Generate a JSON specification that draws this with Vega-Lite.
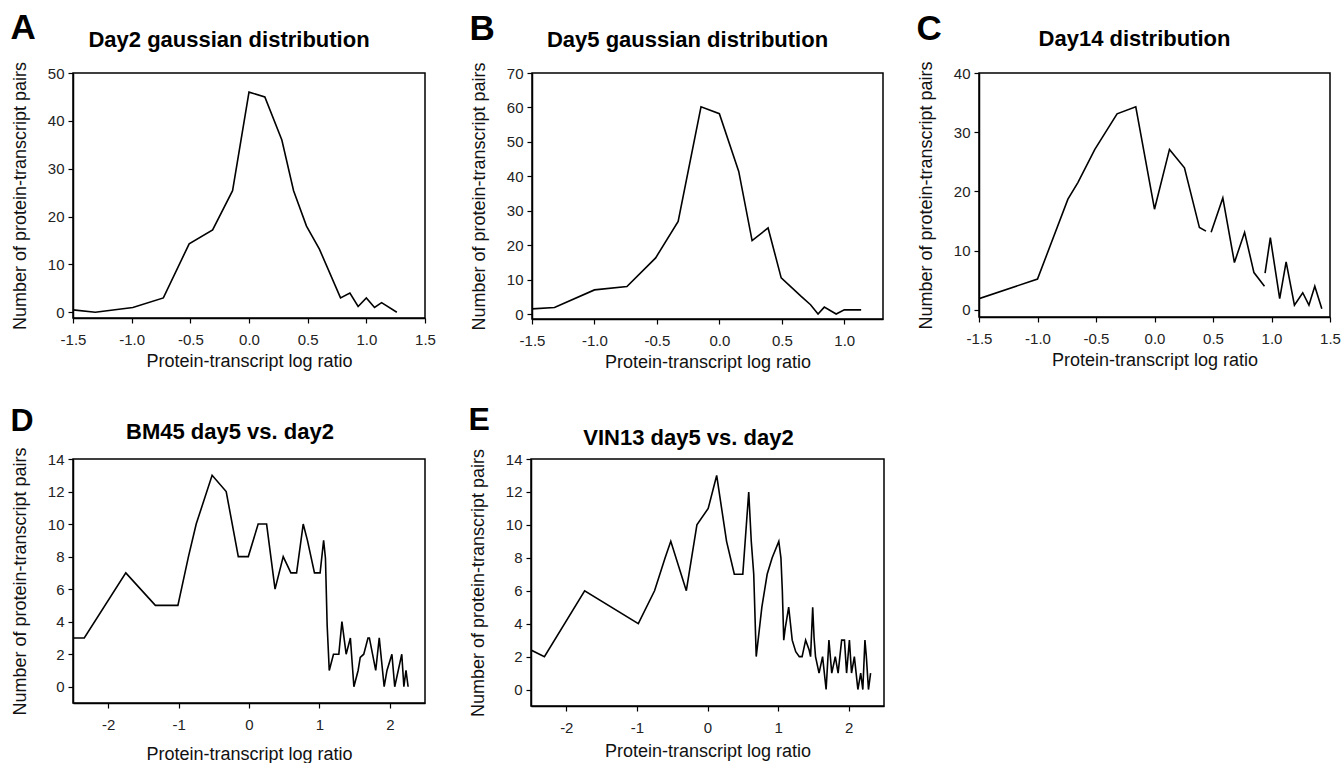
{
  "$schema": "https://vega.github.io/schema/vega-lite/v6.json",
  "background": "white",
  "padding": {"left": 10, "top": 10, "right": 0, "bottom": 0},
  "config": {
    "locale": {"number": {"decimal": ".", "thousands": ",", "grouping": [3], "currency": ["$", ""], "minus": "-"}},
    "font": "Liberation Sans",
    "view": {"stroke": "black", "strokeWidth": 1.5},
    "axis": {
      "labelFont": "Liberation Sans", "titleFont": "Liberation Sans",
      "labelFontSize": 15, "titleFontSize": 18, "titleFontWeight": "normal",
      "labelColor": "#222", "titleColor": "#111",
      "tickColor": "black", "domainColor": "black", "tickSize": 5,
      "domainWidth": 1.5, "tickWidth": 1.2, "grid": false,
      "labelFlush": false, "labelOverlap": false
    },
    "axisX": {"labelPadding": 9, "titlePadding": 5},
    "axisY": {"labelPadding": 4, "titlePadding": 18},
    "concat": {"spacing": 0}
  },
  "datasets": {
    "A": [
      {"x": -1.5, "y": 0.5}, {"x": -1.31, "y": 0}, {"x": -0.99, "y": 1}, {"x": -0.73, "y": 3},
      {"x": -0.51, "y": 14.3}, {"x": -0.31, "y": 17.2}, {"x": -0.14, "y": 25.4}, {"x": 0.0, "y": 46},
      {"x": 0.135, "y": 45}, {"x": 0.28, "y": 36}, {"x": 0.38, "y": 25.4}, {"x": 0.49, "y": 18},
      {"x": 0.6, "y": 13.2}, {"x": 0.78, "y": 3}, {"x": 0.86, "y": 4}, {"x": 0.93, "y": 1.2},
      {"x": 1.0, "y": 3}, {"x": 1.07, "y": 1}, {"x": 1.13, "y": 2}, {"x": 1.26, "y": 0}
    ],
    "B": [
      {"x": -1.5, "y": 1.5}, {"x": -1.32, "y": 1.9}, {"x": -1.0, "y": 7}, {"x": -0.74, "y": 8},
      {"x": -0.51, "y": 16.3}, {"x": -0.33, "y": 26.9}, {"x": -0.147, "y": 60.2}, {"x": 0.0, "y": 58.2},
      {"x": 0.155, "y": 41.4}, {"x": 0.262, "y": 21.3}, {"x": 0.39, "y": 25}, {"x": 0.495, "y": 10.5},
      {"x": 0.655, "y": 5.1}, {"x": 0.73, "y": 2.7}, {"x": 0.79, "y": 0}, {"x": 0.84, "y": 2},
      {"x": 0.935, "y": 0}, {"x": 1.0, "y": 1.2}, {"x": 1.135, "y": 1.2}
    ],
    "C": [
      {"x": -1.5, "y": 1.9}, {"x": -1.0, "y": 5.2}, {"x": -0.74, "y": 18.7}, {"x": -0.655, "y": 21.5},
      {"x": -0.51, "y": 27.1}, {"x": -0.32, "y": 33.1}, {"x": -0.16, "y": 34.3}, {"x": 0.0, "y": 17},
      {"x": 0.128, "y": 27.1}, {"x": 0.256, "y": 24}, {"x": 0.384, "y": 13.9}, {"x": 0.44, "y": 13.3},
      {"x": 0.462, "y": null}, {"x": 0.484, "y": 13.1}, {"x": 0.584, "y": 18.9}, {"x": 0.683, "y": 8},
      {"x": 0.77, "y": 13.1}, {"x": 0.85, "y": 6.3}, {"x": 0.94, "y": 4}, {"x": 0.942, "y": null},
      {"x": 0.945, "y": 6.2}, {"x": 0.99, "y": 12.2}, {"x": 1.07, "y": 1.9}, {"x": 1.125, "y": 8.1},
      {"x": 1.196, "y": 0.8}, {"x": 1.267, "y": 2.9}, {"x": 1.32, "y": 0.8}, {"x": 1.37, "y": 4},
      {"x": 1.43, "y": 0.2}
    ],
    "D": [
      {"x": -2.5, "y": 3}, {"x": -2.34, "y": 3}, {"x": -1.75, "y": 7}, {"x": -1.33, "y": 5},
      {"x": -1.01, "y": 5}, {"x": -0.86, "y": 8}, {"x": -0.75, "y": 10}, {"x": -0.524, "y": 13},
      {"x": -0.324, "y": 12}, {"x": -0.152, "y": 8}, {"x": -0.01, "y": 8}, {"x": 0.13, "y": 10},
      {"x": 0.25, "y": 10}, {"x": 0.37, "y": 6}, {"x": 0.486, "y": 8}, {"x": 0.595, "y": 7},
      {"x": 0.676, "y": 7}, {"x": 0.77, "y": 10}, {"x": 0.83, "y": 9}, {"x": 0.93, "y": 7},
      {"x": 1.01, "y": 7}, {"x": 1.06, "y": 9}, {"x": 1.086, "y": 7.9}, {"x": 1.11, "y": 3.8},
      {"x": 1.14, "y": 1}, {"x": 1.2, "y": 2}, {"x": 1.276, "y": 2}, {"x": 1.32, "y": 4},
      {"x": 1.38, "y": 2}, {"x": 1.44, "y": 3}, {"x": 1.49, "y": 0}, {"x": 1.55, "y": 1},
      {"x": 1.58, "y": 1.8}, {"x": 1.63, "y": 2}, {"x": 1.69, "y": 3}, {"x": 1.71, "y": 3},
      {"x": 1.8, "y": 1}, {"x": 1.85, "y": 3}, {"x": 1.92, "y": 0}, {"x": 1.96, "y": 1},
      {"x": 2.03, "y": 2}, {"x": 2.07, "y": 0}, {"x": 2.17, "y": 2}, {"x": 2.2, "y": 0},
      {"x": 2.23, "y": 1}, {"x": 2.26, "y": 0}
    ],
    "E": [
      {"x": -2.5, "y": 2.4}, {"x": -2.31, "y": 2}, {"x": -1.74, "y": 6}, {"x": -0.98, "y": 4},
      {"x": -0.75, "y": 6}, {"x": -0.6, "y": 8}, {"x": -0.52, "y": 9}, {"x": -0.3, "y": 6},
      {"x": -0.15, "y": 10}, {"x": 0.01, "y": 11}, {"x": 0.13, "y": 13}, {"x": 0.27, "y": 9},
      {"x": 0.38, "y": 7}, {"x": 0.5, "y": 7}, {"x": 0.584, "y": 12}, {"x": 0.62, "y": 9},
      {"x": 0.655, "y": 7}, {"x": 0.69, "y": 2}, {"x": 0.717, "y": 3}, {"x": 0.77, "y": 5},
      {"x": 0.845, "y": 7}, {"x": 0.916, "y": 8}, {"x": 1.01, "y": 9}, {"x": 1.04, "y": 8},
      {"x": 1.06, "y": 6}, {"x": 1.08, "y": 3}, {"x": 1.1, "y": 3.7}, {"x": 1.15, "y": 5},
      {"x": 1.2, "y": 3}, {"x": 1.25, "y": 2.3}, {"x": 1.3, "y": 2}, {"x": 1.34, "y": 2},
      {"x": 1.39, "y": 3}, {"x": 1.44, "y": 2.4}, {"x": 1.46, "y": 2}, {"x": 1.49, "y": 5},
      {"x": 1.51, "y": 3.1}, {"x": 1.53, "y": 2}, {"x": 1.58, "y": 1}, {"x": 1.63, "y": 2},
      {"x": 1.68, "y": 0}, {"x": 1.72, "y": 3}, {"x": 1.76, "y": 1}, {"x": 1.81, "y": 2},
      {"x": 1.85, "y": 1}, {"x": 1.9, "y": 3}, {"x": 1.94, "y": 3}, {"x": 1.97, "y": 1},
      {"x": 2.01, "y": 3}, {"x": 2.04, "y": 1}, {"x": 2.08, "y": 2}, {"x": 2.13, "y": 0},
      {"x": 2.17, "y": 1}, {"x": 2.2, "y": 0}, {"x": 2.23, "y": 3}, {"x": 2.25, "y": 2},
      {"x": 2.28, "y": 0}, {"x": 2.31, "y": 1}
    ]
  },
  "spacing": 31,
  "vconcat": [
    {
      "spacing": 32,
      "hconcat": [
        {
          "title": {"text": "A", "anchor": "start", "frame": "bounds", "fontSize": 35, "fontWeight": "bold", "color": "black", "offset": -17},
          "vconcat": [{
            "title": {"text": "Day2 gaussian distribution", "fontSize": 22, "fontWeight": "bold", "color": "black", "anchor": "middle", "dx": -20, "offset": 9},
            "width": 352, "height": 245,
            "data": {"name": "A"},
            "mark": {"type": "line", "color": "black", "strokeWidth": 1.6, "clip": true, "invalid": "break-paths-show-domains"},
            "encoding": {
              "x": {"field": "x", "type": "quantitative", "scale": {"domain": [-1.5, 1.5], "nice": false, "zero": false}, "axis": {"values": [-1.5, -1, -0.5, 0, 0.5, 1, 1.5], "format": ".1f", "title": "Protein-transcript log ratio"}},
              "y": {"field": "y", "type": "quantitative", "scale": {"domain": [-1.2, 50], "nice": false, "zero": false}, "axis": {"values": [0, 10, 20, 30, 40, 50], "title": "Number of protein-transcript pairs"}}
            }
          }]
        },
        {
          "title": {"text": "B", "anchor": "start", "frame": "bounds", "fontSize": 35, "fontWeight": "bold", "color": "black", "offset": -19},
          "vconcat": [{
            "title": {"text": "Day5 gaussian distribution", "fontSize": 22, "fontWeight": "bold", "color": "black", "anchor": "middle", "dx": -20, "offset": 10},
            "width": 351, "height": 246,
            "data": {"name": "B"},
            "mark": {"type": "line", "color": "black", "strokeWidth": 1.6, "clip": true, "invalid": "break-paths-show-domains"},
            "encoding": {
              "x": {"field": "x", "type": "quantitative", "scale": {"domain": [-1.5, 1.31], "nice": false, "zero": false}, "axis": {"values": [-1.5, -1, -0.5, 0, 0.5, 1], "format": ".1f", "title": "Protein-transcript log ratio"}},
              "y": {"field": "y", "type": "quantitative", "scale": {"domain": [-1.45, 70], "nice": false, "zero": false}, "axis": {"values": [0, 10, 20, 30, 40, 50, 60, 70], "title": "Number of protein-transcript pairs"}}
            }
          }]
        },
        {
          "title": {"text": "C", "anchor": "start", "frame": "bounds", "fontSize": 35, "fontWeight": "bold", "color": "black", "offset": -20},
          "vconcat": [{
            "title": {"text": "Day14 distribution", "fontSize": 22, "fontWeight": "bold", "color": "black", "anchor": "middle", "dx": -20, "offset": 10},
            "width": 351, "height": 244,
            "data": {"name": "C"},
            "mark": {"type": "line", "color": "black", "strokeWidth": 1.6, "clip": true, "invalid": "break-paths-show-domains"},
            "encoding": {
              "x": {"field": "x", "type": "quantitative", "scale": {"domain": [-1.5, 1.5], "nice": false, "zero": false}, "axis": {"values": [-1.5, -1, -0.5, 0, 0.5, 1, 1.5], "format": ".1f", "title": "Protein-transcript log ratio"}},
              "y": {"field": "y", "type": "quantitative", "scale": {"domain": [-1.2, 40], "nice": false, "zero": false}, "axis": {"values": [0, 10, 20, 30, 40], "title": "Number of protein-transcript pairs", "titlePadding": 18}}
            }
          }]
        }
      ]
    },
    {
      "spacing": 42,
      "hconcat": [
        {
          "title": {"text": "D", "anchor": "start", "frame": "bounds", "fontSize": 32, "fontWeight": "bold", "color": "black", "offset": -18},
          "vconcat": [{
            "title": {"text": "BM45 day5 vs. day2", "fontSize": 22, "fontWeight": "bold", "color": "black", "anchor": "middle", "dx": -19, "offset": 3},
            "width": 352, "height": 244,
            "data": {"name": "D"},
            "mark": {"type": "line", "color": "black", "strokeWidth": 1.6, "clip": true, "invalid": "break-paths-show-domains"},
            "encoding": {
              "x": {"field": "x", "type": "quantitative", "scale": {"domain": [-2.5, 2.5], "nice": false, "zero": false}, "axis": {"values": [-2, -1, 0, 1, 2], "format": "d", "title": "Protein-transcript log ratio", "titlePadding": 13}},
              "y": {"field": "y", "type": "quantitative", "scale": {"domain": [-1, 14], "nice": false, "zero": false}, "axis": {"values": [0, 2, 4, 6, 8, 10, 12, 14], "title": "Number of protein-transcript pairs"}}
            }
          }]
        },
        {
          "title": {"text": "E", "anchor": "start", "frame": "bounds", "fontSize": 32, "fontWeight": "bold", "color": "black", "offset": -10},
          "vconcat": [{
            "title": {"text": "VIN13 day5 vs. day2", "fontSize": 22, "fontWeight": "bold", "color": "black", "anchor": "middle", "dx": -19, "offset": -2},
            "width": 353, "height": 247,
            "data": {"name": "E"},
            "mark": {"type": "line", "color": "black", "strokeWidth": 1.6, "clip": true, "invalid": "break-paths-show-domains"},
            "encoding": {
              "x": {"field": "x", "type": "quantitative", "scale": {"domain": [-2.5, 2.5], "nice": false, "zero": false}, "axis": {"values": [-2, -1, 0, 1, 2], "format": "d", "title": "Protein-transcript log ratio", "titlePadding": 7}},
              "y": {"field": "y", "type": "quantitative", "scale": {"domain": [-1, 14], "nice": false, "zero": false}, "axis": {"values": [0, 2, 4, 6, 8, 10, 12, 14], "title": "Number of protein-transcript pairs"}}
            }
          }]
        }
      ]
    }
  ]
}
